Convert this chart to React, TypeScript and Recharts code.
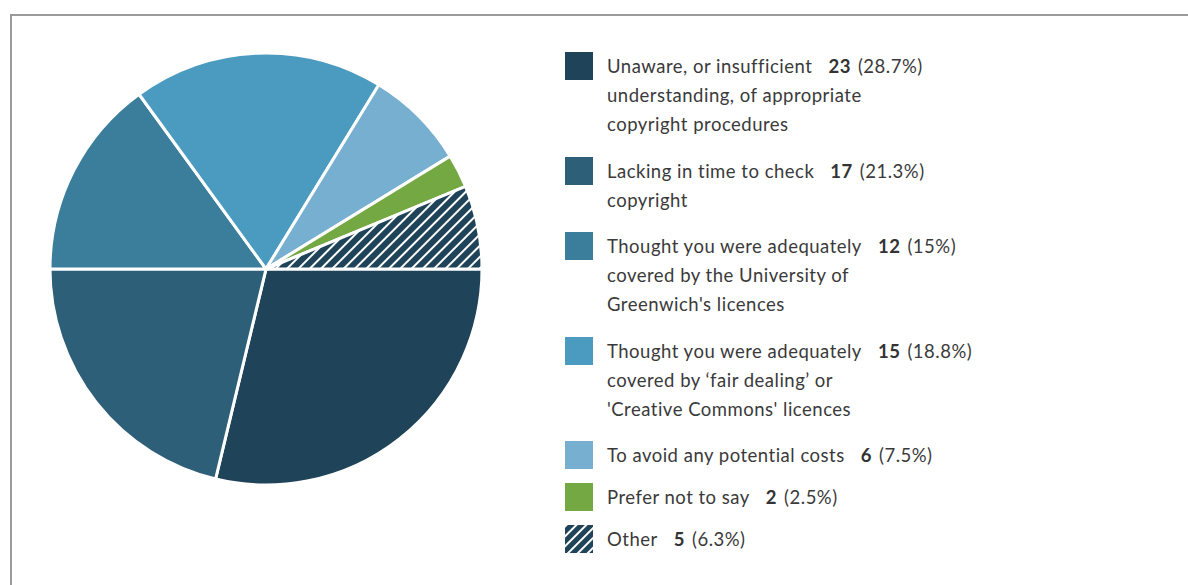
import React from "react";
import { PieChart, Pie, Cell, Legend } from "recharts";

const labels = [
  "Unaware, or insufficient\nunderstanding, of appropriate\ncopyright procedures",
  "Lacking in time to check\ncopyright",
  "Thought you were adequately\ncovered by the University of\nGreenwich's licences",
  "Thought you were adequately\ncovered by \u2018fair dealing\u2019 or\n'Creative Commons' licences",
  "To avoid any potential costs",
  "Prefer not to say",
  "Other",
];
const counts = [23, 17, 12, 15, 6, 2, 5];
const percents = ["28.7%", "21.3%", "15%", "18.8%", "7.5%", "2.5%", "6.3%"];
const colors = ["#1f4358", "#2d5f78", "#3a7e9c", "#4b9bc0", "#76afcf", "#74a842", "url(#hatch)"];

const data = labels.map((label, i) => ({ name: label, value: counts[i] }));

const Swatch = ({ color }: { color: string }) => (
  <svg width={28} height={28} style={{ flex: "none", marginRight: 14 }}>
    <defs>
      <pattern id="hatchLegend" patternUnits="userSpaceOnUse" width={7} height={7} patternTransform="rotate(45)">
        <rect width={7} height={7} fill="#1f4358" />
        <rect x={0} width={2} height={7} fill="#ffffff" />
      </pattern>
    </defs>
    <rect width={28} height={28} fill={color === "url(#hatch)" ? "url(#hatchLegend)" : color} />
  </svg>
);

const LegendBox = () => (
  <div style={{ fontFamily: "Lato, sans-serif", fontSize: 18.5, letterSpacing: 0.5, color: "#3a3a3a", lineHeight: "29px" }}>
    {labels.map((label, i) => {
      const lines = label.split("\n");
      return (
        <div key={i} style={{ display: "flex", alignItems: "flex-start", marginBottom: lines.length > 1 ? 17.5 : 13 }}>
          <Swatch color={colors[i]} />
          <div style={{ whiteSpace: "nowrap" }}>
            <div>
              {lines[0]}
              <b style={{ marginLeft: 16, color: "#333" }}>{counts[i]}</b>
              <span style={{ marginLeft: 7 }}>({percents[i]})</span>
            </div>
            {lines.slice(1).map((l, j) => (
              <div key={j}>{l}</div>
            ))}
          </div>
        </div>
      );
    })}
  </div>
);

export default function App() {
  return (
    <div style={{ position: "absolute", left: 0, top: 0, width: 1188, height: 585, background: "#fff", overflow: "hidden" }}>
      <div
        style={{
          position: "absolute",
          left: 10,
          top: 14,
          width: 1200,
          height: 600,
          borderTop: "2px solid #9a9a9a",
          borderLeft: "2px solid #9a9a9a",
          boxSizing: "border-box",
        }}
      />
      <div style={{ position: "absolute", left: 0, top: 0 }}>
        <PieChart width={1188} height={585} margin={{ top: 0, right: 0, bottom: 0, left: 0 }}>
          <defs>
            <pattern id="hatch" patternUnits="userSpaceOnUse" width={8} height={8} patternTransform="rotate(45)">
              <rect width={8} height={8} fill="#1f4358" />
              <rect x={0} width={2} height={8} fill="#ffffff" />
            </pattern>
          </defs>
          <Pie
            data={data}
            dataKey="value"
            cx={266}
            cy={269}
            outerRadius={216}
            startAngle={0}
            endAngle={-360}
            stroke="#ffffff"
            strokeWidth={3}
            isAnimationActive={false}
          >
            {data.map((_, i) => (
              <Cell key={i} fill={colors[i]} />
            ))}
          </Pie>
          <Legend
            content={() => <LegendBox />}
            wrapperStyle={{ position: "absolute", left: 565, top: 52, width: 560, bottom: "auto" }}
          />
        </PieChart>
      </div>
    </div>
  );
}
